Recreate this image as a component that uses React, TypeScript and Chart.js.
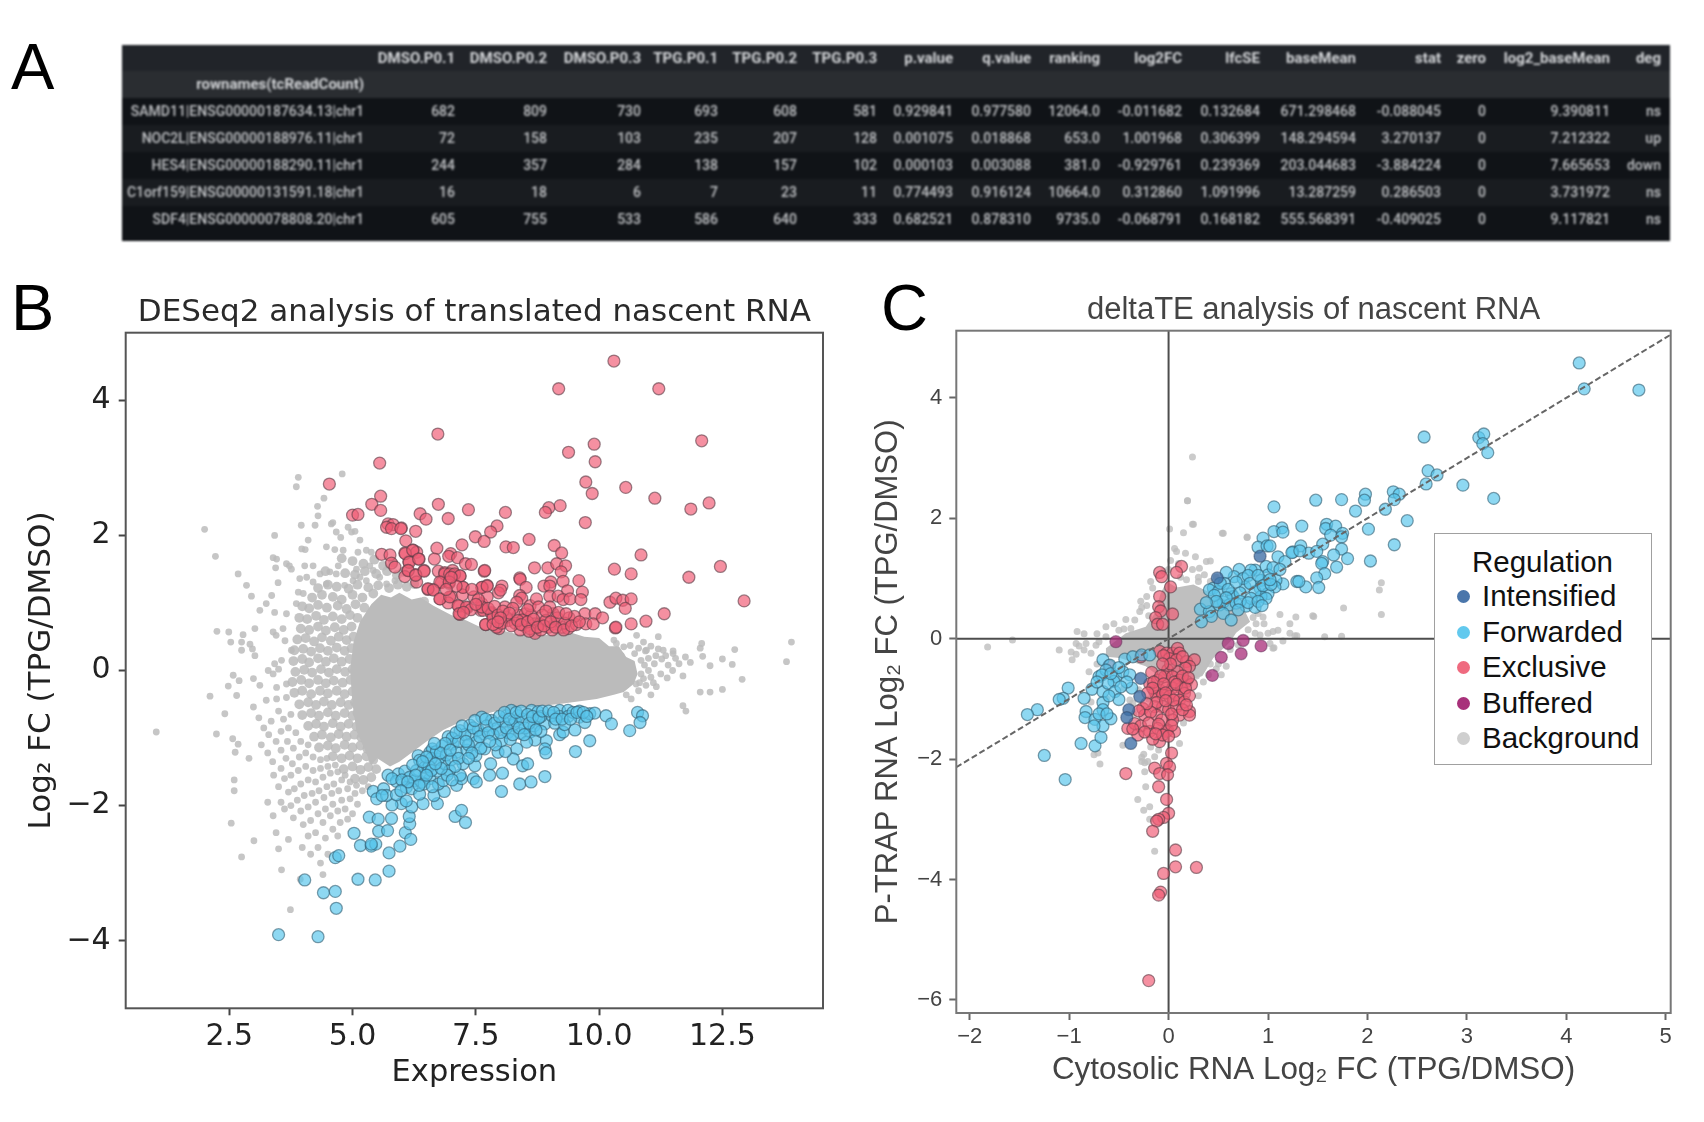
import React, { useEffect, useRef } from "react";
import { Chart, registerables } from "chart.js";

Chart.register(...registerables);

type Pair = number[];

// ---------- Panel A table ----------
const tableColumns = ["DMSO.P0.1","DMSO.P0.2","DMSO.P0.3","TPG.P0.1","TPG.P0.2","TPG.P0.3","p.value","q.value","ranking","log2FC","lfcSE","baseMean","stat","zero","log2_baseMean","deg"];
const tableIndexName = "rownames(tcReadCount)";
const tableRowNames = ["SAMD11|ENSG00000187634.13|chr1","NOC2L|ENSG00000188976.11|chr1","HES4|ENSG00000188290.11|chr1","C1orf159|ENSG00000131591.18|chr1","SDF4|ENSG00000078808.20|chr1"];
const tableRows = [
  ["682","809","730","693","608","581","0.929841","0.977580","12064.0","-0.011682","0.132684","671.298468","-0.088045","0","9.390811","ns"],
  ["72","158","103","235","207","128","0.001075","0.018868","653.0","1.001968","0.306399","148.294594","3.270137","0","7.212322","up"],
  ["244","357","284","138","157","102","0.000103","0.003088","381.0","-0.929761","0.239369","203.044683","-3.884224","0","7.665653","down"],
  ["16","18","6","7","23","11","0.774493","0.916124","10664.0","0.312860","1.091996","13.287259","0.286503","0","3.731972","ns"],
  ["605","755","533","586","640","333","0.682521","0.878310","9735.0","-0.068791","0.168182","555.568391","-0.409025","0","9.117821","ns"],
];
const tableColumnRightEdges = [455,547,641,718,797,877,953,1031,1100,1182,1260,1356,1441,1486,1610,1661];

// ---------- Panel B ----------
const bXTicks = [2.5,5,7.5,10,12.5];
const bYTicks = [-4,-2,0,2,4];
const bExclusive: Pair[] = [
[10.30,4.58],[9.18,4.17],[11.21,4.17],[6.73,3.50],[9.90,3.35],[9.38,3.23],[9.92,3.09],[12.08,3.40],[9.73,2.79],[9.86,2.62],[10.54,2.71],[11.13,2.55],[12.23,2.48],[11.86,2.39],[9.21,2.44],[8.98,2.41],[8.91,2.34],[6.74,2.46],[7.35,2.38],[8.10,2.34],[6.37,2.32],[6.49,2.24],[6.94,2.25],[9.72,2.19],[7.93,2.14],[7.80,2.05],[7.49,1.98],[7.67,1.91],[6.28,2.06],[5.99,2.11],[8.58,1.94],[8.11,1.83],[8.26,1.82],[9.09,1.85],[9.24,1.74],[10.85,1.71],[7.22,1.86],[6.08,1.92],[6.71,1.81],[6.23,1.78],[6.30,1.75],[6.99,1.73],[6.95,1.69],[7.13,1.67],[6.66,1.65],[6.35,1.65],[6.06,1.74],[6.14,1.61],[7.29,1.58],[7.41,1.57],[12.46,1.54],[8.69,1.52],[8.96,1.52],[9.14,1.58],[9.32,1.55],[9.23,1.46],[10.31,1.50],[10.65,1.43],[11.82,1.38],[7.67,1.47],[6.45,1.48],[6.12,1.48],[6.74,1.47],[6.28,1.42],[6.30,1.31],[6.06,1.39],[6.87,1.45],[7.03,1.48],[7.06,1.41],[7.18,1.40],[6.80,1.30],[6.96,1.29],[8.39,1.37],[8.40,1.35],[9.27,1.32],[9.59,1.33],[9.02,1.31],[8.88,1.25],[9.00,1.25],[7.73,1.26],[7.63,1.23],[8.03,1.25],[7.96,1.15],[8.52,1.23],[7.24,1.23],[6.53,1.20],[6.64,1.20],[9.36,1.18],[9.66,1.16],[6.78,1.06],[7.01,1.09],[7.23,1.12],[6.94,1.00],[7.46,1.09],[8.39,1.11],[8.43,1.07],[8.33,1.01],[9.00,1.10],[9.17,1.10],[9.27,1.05],[9.41,1.06],[9.63,1.05],[10.22,1.01],[10.34,1.07],[10.48,1.04],[10.65,1.06],[10.53,0.92],[12.94,1.03],[11.32,0.84],[10.95,0.73],[10.65,0.69],[10.33,0.63],[10.34,0.64],[7.18,0.83],[7.16,0.95],[7.33,0.93],[7.62,0.99],[7.60,0.89],[7.70,0.68],[7.82,0.86],[7.73,1.09],[8.09,0.94],[8.16,0.74],[7.97,0.62],[8.12,0.79],[8.36,0.82],[8.50,0.84],[8.50,0.65],[8.63,0.82],[8.60,0.96],[8.73,1.06],[8.77,0.94],[8.70,0.69],[8.70,0.55],[8.80,0.69],[8.97,0.64],[9.07,0.84],[9.10,0.69],[9.00,0.94],[9.24,0.64],[9.37,0.62],[9.39,0.78],[9.54,0.68],[9.71,0.84],[9.73,0.69],[9.92,0.84],[9.88,0.69],[10.07,0.78],
[5.55,3.07],[4.53,2.76],[5.57,2.58],[5.39,2.46],[5.57,2.37],[5.00,2.30],[5.11,2.31],[5.72,2.17],[5.82,2.16],[5.69,2.12],[5.79,2.10],[5.98,2.10],[5.59,1.72],[5.76,1.71],[5.79,1.59],[5.86,1.53],[6.07,1.73],[6.22,1.78],[6.15,1.60],[6.34,1.65],[6.13,1.48],[6.28,1.41],[6.45,1.47],[6.87,1.43],[6.97,1.43],[7.07,1.43],[7.18,1.40],[6.77,1.31],[6.96,1.31],[7.24,1.23],[6.53,1.21],[6.64,1.19],[6.77,1.06],[6.97,1.09],[7.14,0.96],[7.31,0.94],[7.16,0.84],[7.62,1.23],[7.73,1.25],[7.65,0.89],[7.62,0.94],[7.82,0.84],[7.70,0.68],[7.92,0.64],[8.00,1.19],[7.68,1.48],
[7.85,0.78],[8.02,0.70],[8.25,0.92],[8.45,0.75],[8.55,0.90],[8.30,0.70],[8.85,0.82],[8.92,0.74],[9.15,0.78],[9.30,0.70],[9.50,0.80],[8.40,0.60],[8.60,0.62],[8.82,0.60],[9.05,0.60],[7.55,1.05],[7.40,0.90],
[7.75,0.92],[7.88,0.95],[7.95,0.82],[8.05,0.88],[8.18,0.85],[8.22,0.66],[8.35,0.74],[8.42,0.68],[8.55,0.72],[8.58,0.58],[8.67,0.76],[8.75,0.64],[8.88,0.66],[8.92,0.88],[9.02,0.72],[9.12,0.64],[9.18,0.86],[9.28,0.60],[9.33,0.84],[9.44,0.66],[9.60,0.72],[7.85,0.68],[8.0,0.78],[7.50,0.98],[7.95,0.72],[7.25,0.86],[7.42,1.20],[7.10,1.25],[7.00,1.38],[6.90,1.20]
];
const bForwarded: Pair[] = [
[3.50,-3.91],[4.30,-3.94],[4.67,-3.52],[4.41,-3.29],[4.65,-3.27],[4.03,-3.10],[5.11,-3.09],[5.46,-3.10],[5.74,-2.97],[4.65,-2.77],[4.72,-2.74],[5.74,-2.70],[5.96,-2.60],[5.16,-2.59],[5.38,-2.60],[5.47,-2.57],[5.38,-2.57],[5.03,-2.41],[5.53,-2.38],[5.71,-2.37],[6.07,-2.40],[6.18,-2.50],[5.34,-2.17],[5.52,-2.20],[5.79,-2.19],[6.16,-2.27],[6.15,-2.16],[7.08,-2.16],[7.21,-2.07],[7.29,-2.25],[6.20,-2.02],[5.99,-1.97],[5.80,-1.99],[6.43,-1.97],[6.72,-1.97],[5.42,-1.79],[5.49,-1.90],[5.63,-1.75],[5.69,-1.85],[5.89,-1.84],[6.09,-1.93],[5.72,-1.55],[5.93,-1.53],[6.06,-1.49],[5.89,-1.64],[6.16,-1.58],[6.26,-1.63],[6.40,-1.65],[6.09,-1.73],[6.20,-1.75],[6.36,-1.83],[6.65,-1.85],[6.86,-1.79],[6.57,-1.60],[6.74,-1.68],[6.84,-1.63],[6.33,-1.26],[6.36,-1.33],[6.57,-1.21],[6.62,-1.16],[6.47,-1.53],[6.72,-1.49],[6.47,-1.43],[6.87,-1.38],[6.74,-1.31],[6.97,-1.48],[7.11,-1.70],[7.21,-1.60],[7.45,-1.60],[7.51,-1.65],[7.18,-1.55],[6.94,-0.98],[7.04,-1.09],[7.18,-0.89],[7.11,-1.21],[7.32,-1.18],[7.24,-1.38],[7.48,-1.41],[7.38,-0.81],[7.62,-0.69],[7.41,-0.96],[7.65,-0.94],[7.51,-1.06],[7.50,-1.26],[7.68,-1.16],[7.82,-0.74],[7.92,-0.86],[8.02,-1.04],[7.95,-1.21],[7.80,-1.38],[7.78,-1.55],[8.04,-1.52],[8.02,-1.79],[8.12,-0.67],[8.22,-0.59],[8.26,-0.81],[8.36,-0.67],[8.41,-0.93],[8.33,-1.16],[8.26,-1.31],[8.45,-1.41],[8.55,-1.38],[8.39,-1.68],[8.62,-1.65],[8.90,-1.57],[8.63,-0.59],[8.76,-0.61],[8.73,-0.73],[8.60,-0.91],[8.70,-1.03],[8.53,-1.06],[8.90,-0.79],[9.04,-0.67],[8.93,-1.04],[8.90,-1.16],[8.92,-1.22],[9.20,-0.59],[9.20,-0.68],[9.37,-0.59],[9.37,-0.68],[9.47,-0.62],[9.60,-0.69],[9.71,-0.77],[9.81,-0.64],[9.91,-0.63],[9.20,-0.95],[9.27,-0.91],[9.51,-0.88],[9.81,-1.04],[9.52,-1.20],[10.14,-0.67],[10.25,-0.79],[10.62,-0.89],[10.78,-0.62],[10.88,-0.67],[10.83,-0.77],
[7.02,-1.00],[7.15,-1.05],[7.28,-0.95],[7.35,-1.10],[7.55,-0.88],[7.72,-0.82],[7.85,-0.95],[7.90,-1.10],[8.05,-0.75],[8.15,-0.92],[8.20,-1.02],[8.30,-0.75],[8.45,-0.72],[8.50,-0.85],[8.68,-0.82],[8.82,-0.68],[8.82,-0.90],[9.10,-0.78],[9.30,-0.80],[9.60,-0.60],[6.60,-1.30],[6.55,-1.42],[6.70,-1.20],[6.82,-1.12],[6.90,-1.25],[7.00,-1.32],[7.15,-1.30],[6.30,-1.48],[6.22,-1.40],[6.45,-1.68],[6.60,-1.48],[5.80,-1.60],[6.00,-1.62],[7.60,-1.15],[7.42,-1.22],[8.10,-1.20],
[7.10,-0.92],[7.22,-0.82],[7.30,-1.05],[7.45,-0.85],[7.48,-0.74],[7.58,-0.98],[7.70,-0.72],[7.75,-0.92],[7.78,-1.05],[7.88,-0.78],[7.98,-0.68],[8.00,-0.92],[8.08,-0.62],[8.12,-0.85],[8.18,-0.72],[8.25,-0.95],[8.32,-0.62],[8.38,-0.85],[8.42,-0.60],[8.48,-0.95],[8.55,-0.65],[8.58,-0.78],[8.65,-0.68],[8.72,-0.88],[8.78,-0.70],[8.85,-0.60],[8.98,-0.60],[9.08,-0.62],[9.12,-0.72],[9.25,-0.72],[9.42,-0.72],[9.55,-0.62],[9.68,-0.62],[9.75,-0.68],[6.88,-1.08],[6.78,-1.22],[6.66,-1.08],[6.50,-1.28],[6.42,-1.35],[6.98,-1.18],[7.08,-1.42],[6.92,-1.55],[6.80,-1.45],[6.68,-1.38],[6.28,-1.55],[6.12,-1.65],[5.98,-1.78],[5.60,-1.85],[6.50,-1.55],[6.35,-1.70],[6.62,-1.72],[7.02,-1.62],[7.35,-1.30]
];
const bBackgroundCore: Pair[] = [[4.95,0],[5.02,0.42],[5.15,0.72],[5.38,0.98],[5.58,1.12],[5.78,1.08],[5.95,1.15],[6.2,1.05],[6.38,1.08],[6.64,0.96],[7.0,0.82],[7.31,0.74],[7.65,0.62],[7.99,0.6],[8.32,0.54],[8.66,0.55],[9.0,0.52],[9.34,0.58],[9.7,0.5],[10.0,0.48],[10.2,0.36],[10.4,0.36],[10.55,0.2],[10.72,0.14],[10.78,-0.05],[10.7,-0.2],[10.5,-0.32],[10.3,-0.36],[9.95,-0.42],[9.27,-0.49],[8.5,-0.55],[7.92,-0.6],[7.3,-0.72],[6.84,-0.88],[6.5,-1.05],[6.23,-1.2],[5.95,-1.35],[5.76,-1.42],[5.5,-1.3],[5.38,-1.4],[5.22,-1.12],[5.08,-0.9],[5.0,-0.5],[4.95,0]];
const bBackgroundMid: Pair[] = [
[5.00,1.62],[5.22,1.58],[5.44,1.64],[5.62,1.55],[4.78,1.66],[5.82,1.60],
[4.45,1.47],[4.85,1.44],[5.05,1.42],[5.25,1.47],[5.48,1.43],[5.70,1.47],[5.90,1.41],[6.02,1.46],
[4.30,1.22],[4.50,1.27],[4.68,1.24],[4.92,1.21],[5.10,1.27],[5.32,1.23],[5.52,1.26],[5.74,1.22],[5.92,1.27],[6.10,1.24],[6.25,1.28],
[4.18,1.08],[4.38,1.12],[4.60,1.09],[4.78,1.05],[5.00,1.12],[5.20,1.08],[5.42,1.14],[6.45,1.02],
[3.98,0.95],[4.12,0.92],[4.30,0.97],[4.48,0.93],[4.70,0.96],[4.88,0.91],[5.06,0.98],[5.24,0.93],
[3.92,0.78],[4.08,0.76],[4.26,0.81],[4.42,0.75],[4.60,0.80],[4.78,0.76],[4.95,0.82],[5.10,0.78],
[3.95,0.62],[4.12,0.60],[4.30,0.65],[4.46,0.59],[4.64,0.64],[4.82,0.60],[4.98,0.65],
[3.88,0.46],[4.05,0.48],[4.22,0.43],[4.38,0.49],[4.56,0.44],[4.72,0.50],[4.88,0.45],[5.02,0.50],
[3.82,0.30],[4.00,0.32],[4.16,0.28],[4.34,0.33],[4.50,0.29],[4.68,0.34],[4.84,0.29],[4.98,0.33],
[3.80,0.14],[3.98,0.17],[4.12,0.12],[4.30,0.18],[4.46,0.13],[4.62,0.18],[4.78,0.13],[4.94,0.17],
[3.84,-0.02],[4.02,0.01],[4.18,-0.03],[4.36,0.02],[4.52,-0.03],[4.68,0.02],[4.85,-0.02],[5.00,0.02],
[3.78,-0.17],[3.96,-0.14],[4.12,-0.19],[4.30,-0.14],[4.46,-0.19],[4.62,-0.15],[4.80,-0.18],[4.96,-0.14],
[3.82,-0.33],[3.98,-0.30],[4.16,-0.35],[4.34,-0.30],[4.50,-0.34],[4.68,-0.30],[4.84,-0.35],[5.00,-0.31],
[3.92,-0.50],[4.10,-0.47],[4.26,-0.51],[4.42,-0.46],[4.58,-0.51],[4.76,-0.47],[4.92,-0.51],[5.05,-0.47],
[3.98,-0.66],[4.16,-0.63],[4.32,-0.67],[4.50,-0.62],[4.66,-0.67],[4.84,-0.63],[5.00,-0.67],[5.10,-0.63],
[4.10,-0.82],[4.26,-0.79],[4.42,-0.83],[4.60,-0.78],[4.76,-0.83],[4.92,-0.79],[5.08,-0.83],
[4.22,-0.98],[4.38,-0.95],[4.56,-0.99],[4.72,-0.94],[4.88,-0.98],[5.04,-0.95],[5.18,-0.99],
[4.32,-1.14],[4.50,-1.11],[4.66,-1.15],[4.84,-1.10],[5.00,-1.14],[5.16,-1.11],[5.30,-1.16],
[4.60,-1.27],[4.78,-1.30],[4.94,-1.26],[5.10,-1.30],[5.28,-1.27],[5.42,-1.32],
[4.82,-1.46],[5.00,-1.42],[5.16,-1.47],[5.32,-1.43],[5.48,-1.46],
[5.05,-1.60],[5.22,-1.62],[5.38,-1.58]
];
const bBackgroundDots: Pair[] = [
[3.90,2.86],[3.86,2.72],[4.79,2.91],[4.42,2.55],[4.29,2.43],[4.30,2.29],[2.00,2.09],[2.22,1.69],[2.68,1.43],[2.85,1.26],[2.95,1.10],[3.42,2.00],[3.96,2.15],[4.24,2.15],[4.57,2.17],[4.60,2.19],[4.67,2.05],[4.76,1.97],[4.91,2.12],[4.98,2.05],[5.05,2.06],[5.15,1.93],[4.10,1.93],[3.97,1.80],[4.04,1.79],[4.47,1.83],[4.64,1.79],[4.81,1.78],[5.11,1.75],[5.28,1.78],[5.38,1.75],[3.39,1.67],[3.46,1.65],[3.44,1.52],[3.66,1.58],[3.76,1.50],[3.72,1.55],[4.03,1.55],[4.20,1.55],[4.34,1.43],[4.54,1.46],[4.71,1.55],[4.67,1.43],[5.08,1.50],[5.35,1.55],[5.42,1.48],[3.49,1.30],[3.93,1.36],[4.07,1.38],[4.20,1.31],[4.47,1.28],[4.84,1.26],[5.01,1.33],[5.15,1.38],[5.28,1.33],[5.55,1.38],[5.69,1.28],[5.86,1.33],[3.36,1.11],[3.25,0.99],[3.90,1.16],[4.00,1.14],[3.12,0.89],[3.42,0.86],[3.66,0.84],[3.86,0.99],[2.25,0.58],[2.49,0.57],[2.78,0.53],[2.53,0.42],[2.75,0.42],[2.75,0.30],[3.02,0.62],[2.92,0.39],[2.97,0.32],[3.02,0.22],[3.39,0.57],[3.45,0.52],[3.59,0.62],[3.63,0.44],[3.76,0.30],[3.42,0.10],[3.56,0.15],[3.29,0.00],[3.39,-0.05],[3.50,0.02],[2.58,-0.07],[2.70,-0.15],[2.99,-0.12],[3.12,-0.22],[3.46,-0.25],[3.66,-0.20],[2.48,-0.23],[2.65,-0.37],[2.11,-0.38],[2.99,-0.54],[3.25,-0.44],[3.46,-0.42],[3.66,-0.40],[2.41,-0.64],
[1.02,-0.91],[2.24,-0.94],[2.57,-1.01],[2.68,-1.09],[2.62,-1.21],[2.90,-1.30],[2.60,-1.62],[2.60,-1.78],[2.54,-2.26],[2.75,-2.76],[3.56,-2.95],[3.74,-3.54],[3.94,-3.09],[3.00,-2.52],[3.28,-1.95],[3.39,-2.15],[3.45,-2.40],[3.50,-2.64],
[3.10,-0.70],[3.20,-0.85],[3.35,-0.75],[3.50,-0.60],[3.60,-0.72],[3.75,-0.65],[3.30,-0.95],[3.45,-1.05],[3.55,-0.90],[3.70,-0.85],[3.85,-0.92],[3.15,-1.10],[3.28,-1.22],[3.38,-1.35],[3.55,-1.18],[3.68,-1.05],[3.80,-1.15],[3.95,-1.05],[4.10,-1.10],[3.40,-1.55],[3.55,-1.45],[3.65,-1.30],[3.78,-1.38],[3.92,-1.28],[4.05,-1.22],[4.20,-1.28],[4.35,-1.32],[4.48,-1.30],[3.50,-1.72],[3.62,-1.60],[3.75,-1.55],[3.90,-1.48],[4.05,-1.42],[4.20,-1.48],[4.35,-1.45],[4.50,-1.42],[4.65,-1.40],[3.55,-1.95],[3.70,-1.80],[3.82,-1.75],[3.95,-1.68],[4.10,-1.62],[4.25,-1.65],[4.40,-1.58],[4.55,-1.52],[4.70,-1.50],[4.85,-1.55],[3.62,-2.05],[3.75,-2.00],[3.88,-1.92],[4.02,-1.85],[4.18,-1.82],[4.32,-1.78],[4.48,-1.72],[4.62,-1.68],[4.78,-1.62],[4.95,-1.65],[5.08,-1.70],[3.80,-2.18],[3.95,-2.08],[4.10,-2.02],[4.25,-1.95],[4.42,-1.88],[4.58,-1.82],[4.72,-1.78],[4.90,-1.75],[5.05,-1.82],[5.20,-1.78],[5.32,-1.72],[4.00,-2.28],[4.15,-2.22],[4.30,-2.12],[4.45,-2.05],[4.60,-1.98],[4.78,-1.92],[4.95,-1.90],[5.10,-1.98],[4.10,-2.45],[4.25,-2.40],[4.40,-2.25],[4.55,-2.15],[4.70,-2.08],[4.85,-2.05],[5.00,-2.12],[4.30,-2.62],[4.45,-2.48],[4.60,-2.35],[4.75,-2.25],[4.90,-2.20],[4.50,-2.72],[4.35,-2.85],[4.70,-2.45],[4.40,-3.02],[3.98,-2.62],[3.70,-2.50],[4.15,-2.72],
[11.05,0.36],[10.90,0.42],[10.76,0.52],[11.20,0.50],[10.35,0.40],[10.63,0.37],[10.96,0.30],[11.50,0.25],[12.08,0.40],[12.75,0.31],[13.90,0.42],[13.80,0.13],[12.90,-0.13],[12.50,0.17],[12.70,0.09],[12.05,0.33],[12.10,0.21],[12.25,0.07],[12.05,-0.32],[12.25,-0.32],[12.50,-0.28],[11.70,-0.52],[11.76,-0.60],[11.50,0.29],[11.55,0.18],[11.27,0.17],[11.49,0.00],[11.38,-0.11],[11.16,-0.24],[11.05,-0.36],[11.20,0.32],[10.94,0.29],[10.85,0.15],[11.00,0.00],[10.90,-0.12],[10.80,-0.30],[10.95,-0.22],[11.12,0.10],[11.25,-0.05],[11.62,0.10],[11.40,0.08],[11.75,0.20],[11.85,0.12],[11.70,-0.08],[10.55,-0.36],[10.65,-0.42],[10.50,0.35],[10.72,0.25],[10.80,0.33],[10.75,-0.20],[10.85,-0.05],[10.30,0.45],[10.45,0.22],[11.30,0.30],[10.92,0.08],[11.05,-0.10],[11.15,0.22],[11.35,0.22],[11.00,0.18],[10.82,-0.18],[11.10,-0.18]
];

// ---------- Panel C ----------
const cXTicks = [-2,-1,0,1,2,3,4,5];
const cYTicks = [-6,-4,-2,0,2,4];
const cDiagonal: Pair[] = [[-2.135,-2.135],[5.05,5.05]];
const cZeroH: Pair[] = [[-2.135,0],[5.05,0]];
const cZeroV: Pair[] = [[0,-6.22],[0,5.12]];
const cIntensified: Pair[] = [[0.49,1.01],[0.92,1.37],[-0.28,-0.66],[-0.29,-0.96],[-0.40,-1.18],[-0.42,-1.31],[-0.38,-1.74]];
const cBuffered: Pair[] = [[-0.53,-0.05],[0.60,-0.08],[0.75,-0.03],[0.93,-0.12],[0.73,-0.25],[0.53,-0.31],[0.44,-0.61]];
const cForwarded: Pair[] = [
[4.13,4.58],[4.18,4.15],[4.73,4.13],[2.57,3.35],[3.12,3.34],[3.17,3.40],[3.16,3.24],[3.21,3.09],[2.61,2.79],[2.70,2.72],[2.59,2.57],[2.96,2.55],[3.27,2.33],[2.26,2.44],[2.32,2.40],[2.27,2.31],[2.18,2.15],[2.40,1.96],[1.98,2.40],[1.97,2.30],[1.88,2.12],[1.74,2.31],[1.48,2.30],[1.06,2.19],[2.01,1.82],[2.27,1.56],[2.03,1.29],[1.59,1.90],[1.58,1.83],[1.68,1.87],[1.63,1.72],[1.75,1.75],[1.74,1.69],[1.34,1.87],[1.14,1.84],[1.06,1.78],[1.15,1.77],[0.95,1.67],[0.90,1.52],[0.99,1.54],[1.74,1.49],[1.66,1.39],[1.55,1.57],[1.33,1.54],[1.25,1.44],[1.41,1.42],[1.49,1.45],[1.80,1.33],[1.69,1.19],[1.55,1.28],[1.54,1.25],[1.57,1.08],[1.49,1.01],[1.51,0.85],[1.38,0.86],[1.29,0.95],[1.31,0.95],[1.02,1.54],[1.10,1.36],[1.17,1.28],[1.24,1.43],[1.32,1.46],[1.15,0.91],[1.08,0.97],[1.07,0.86],[0.98,1.20],[1.00,1.06],[0.93,0.97],[0.87,1.14],[0.83,1.14],[0.92,0.84],[1.00,0.75],[0.93,0.70],[0.87,0.78],[0.77,0.86],[0.71,1.15],[0.66,1.03],[0.75,1.00],[0.58,1.10],[0.56,0.92],[0.45,0.84],[0.41,0.81],[0.50,0.78],[0.63,0.75],[0.65,0.70],[0.55,0.61],[0.61,0.56],[0.51,0.56],[0.68,0.59],[0.78,0.54],[0.87,0.52],[0.83,0.67],[0.98,0.67],[0.32,0.49],[0.41,0.45],[0.55,0.42],[0.63,0.31],[0.43,0.37],[0.33,0.28],
[0.46,0.72],[0.52,0.92],[0.60,0.82],[0.68,0.94],[0.72,0.76],[0.80,1.05],[0.82,0.92],[0.90,1.05],[0.95,0.88],[1.03,0.90],[0.72,0.62],[0.80,0.60],[0.90,0.62],[0.94,0.55],[1.05,1.18],[1.12,1.15],[1.02,0.98],[0.58,0.68],[0.48,0.62],[0.38,0.60],[0.70,0.48],
[-1.01,-0.82],[-1.06,-0.99],[-1.10,-1.01],[-1.32,-1.18],[-1.42,-1.26],[-1.25,-1.94],[-1.04,-2.34],[-0.88,-1.74],[-0.74,-1.78],[-0.68,-1.64],[-0.85,-0.99],[-0.77,-0.84],[-0.66,-0.88],[-0.70,-0.63],[-0.66,-0.35],[-0.59,-0.44],[-0.63,-0.52],[-0.67,-0.60],[-0.53,-0.63],[-0.55,-0.71],[-0.61,-0.74],[-0.46,-0.55],[-0.39,-0.60],[-0.44,-0.34],[-0.36,-0.30],[-0.27,-0.27],[-0.19,-0.27],[-0.54,-0.88],[-0.50,-1.01],[-0.37,-0.82],[-0.66,-1.06],[-0.66,-1.18],[-0.83,-1.21],[-0.84,-1.31],[-0.74,-1.34],[-0.66,-1.45],[-0.58,-1.33],[-0.75,-1.45],
[-0.58,-0.58],[-0.50,-0.48],[-0.42,-0.72],[-0.48,-0.80],[-0.60,-0.95],[-0.70,-1.25],[-0.62,-1.25],[-0.72,-0.72]
];
const cExclusive: Pair[] = [
[0.13,1.20],[0.08,1.10],[-0.09,1.10],[-0.07,1.03],[0.02,0.86],[-0.09,0.70],[-0.10,0.53],[-0.08,0.46],[-0.13,0.35],[-0.11,0.24],[-0.06,0.24],[0.04,0.41],
[-0.09,-0.21],[-0.02,-0.24],[0.04,-0.24],[0.09,-0.16],[0.11,-0.24],[0.01,-0.33],[0.08,-0.35],[0.18,-0.38],[0.26,-0.35],[0.21,-0.46],[0.17,-0.49],[-0.01,-0.52],[0.09,-0.55],[-0.17,-0.56],[-0.19,-0.75],[-0.11,-0.69],[-0.04,-0.63],[0.04,-0.63],[0.11,-0.69],[0.18,-0.71],[0.23,-0.76],[-0.14,-0.88],[-0.09,-0.85],[-0.02,-0.82],[0.04,-0.82],[0.13,-0.82],[-0.12,-0.96],[-0.06,-0.93],[0.01,-0.96],[0.08,-0.93],[0.16,-0.91],[0.11,-1.02],[-0.26,-1.16],[-0.14,-1.13],[-0.06,-1.13],[-0.24,-1.27],[-0.12,-1.27],[0.00,-1.18],[0.08,-1.13],[0.21,-1.21],[0.11,-1.27],[0.04,-1.35],[-0.07,-1.35],[0.21,-1.27],[-0.41,-1.49],[-0.34,-1.41],[-0.28,-1.45],[-0.31,-1.60],[-0.19,-1.54],[-0.11,-1.49],[-0.01,-1.52],[-0.09,-1.71],[-0.16,-1.67],[-0.02,-1.54],[0.06,-1.54],[0.03,-1.90],[-0.02,-2.07],[0.01,-2.13],[-0.14,-2.15],[-0.09,-2.24],[-0.01,-2.26],[-0.43,-2.24],[-0.60,-0.45],[-0.28,-0.30],
[-0.10,-2.46],[-0.02,-2.67],[0.00,-2.90],[-0.05,-2.97],[-0.10,-3.00],[-0.12,-3.03],[-0.16,-3.20],[0.07,-3.51],[0.07,-3.79],[0.28,-3.80],[-0.05,-3.90],[-0.08,-4.21],[-0.10,-4.26],[-0.20,-5.68],
[-0.05,-0.28],[0.02,-0.42],[0.14,-0.30],[-0.06,-0.42],[0.06,-0.72],[-0.08,-0.62],[0.14,-0.62],[-0.15,-0.72],[-0.16,-0.82],[-0.05,-0.75],[0.08,-0.76],[0.17,-0.82],[0.20,-0.65],[-0.21,-0.90],[-0.03,-0.90],[0.05,-1.02],[-0.12,-1.06],[-0.03,-1.03],[0.16,-1.05],[0.21,-0.95],[0.03,-1.25],[-0.18,-1.22],[-0.22,-1.08],[-0.30,-1.20],[-0.20,-1.40],[-0.10,-1.42],[0.03,-1.44],[0.14,-1.18],[0.18,-1.10],[-0.36,-1.50],[-0.24,-1.55],[-0.06,-1.60],[0.00,-1.62],[-0.13,-1.58]
];
const cBackgroundCore: Pair[] = [[-0.63,-0.16],[-0.43,0.09],[-0.23,0.2],[-0.14,0.42],[-0.08,0.75],[-0.02,0.95],[0.08,0.85],[0.25,0.9],[0.40,0.78],[0.75,0.52],[0.82,0.28],[0.68,0.1],[0.62,-0.05],[0.45,-0.32],[0.34,-0.62],[0.04,-0.8],[-0.23,-0.46],[-0.49,-0.32],[-0.63,-0.30],[-0.63,-0.16]];
const cBackgroundDots: Pair[] = [
[0.19,2.29],[0.25,1.90],[0.15,1.76],[0.01,1.82],[0.55,1.75],[0.79,1.68],[0.06,1.50],[0.08,1.45],[0.17,1.42],[0.27,1.36],[0.38,1.28],[0.42,1.29],[0.24,1.15],[0.31,1.17],[0.36,1.06],[-0.16,0.84],[-0.27,0.52],[-0.29,0.45],[-0.43,0.32],[-0.34,0.31],[-0.45,0.16],[-0.38,0.17],[-0.63,0.20],[-0.63,0.03],[-0.92,0.12],[-0.85,0.08],[-1.57,-0.02],[-1.82,-0.14],[-1.10,-0.19],[-0.93,-0.08],[-0.90,-0.12],[-0.98,-0.22],[-0.93,-0.26],[-0.97,-0.35],[-0.83,-0.08],[-0.73,-0.11],[-0.85,-0.19],[-0.78,-0.24],
[1.12,0.40],[1.28,0.36],[1.45,0.38],[0.88,0.25],[0.96,0.25],[1.22,0.25],[1.10,0.14],[1.05,0.12],[1.00,0.09],[0.92,0.06],[0.87,0.09],[1.22,0.09],[1.29,0.05],[1.15,-0.04],[1.05,-0.16],[1.02,-0.08],[0.58,-0.46],[0.53,-0.60],[2.14,0.93],[2.12,0.81],[1.76,0.51],[2.14,0.40],[1.46,0.37],[0.24,3.02],[0.19,2.29],[0.24,1.90],[0.54,1.75],[0.79,1.69],[1.74,0.04],[1.57,0.03],[1.27,0.05],[1.06,-0.15],
[-0.46,-1.77],[-0.75,-1.93],[-0.69,-2.08],[-0.25,-1.92],[-0.27,-2.04],[-0.21,-2.04],[-0.14,-1.96],[-0.24,-2.21],[-0.23,-2.46],[0.11,-1.74],[-0.39,-1.02],[-0.36,-1.07],[-0.19,-0.74],[-0.31,-2.67],[-0.19,-2.79],[-0.19,-3.00],[-0.25,-2.85],[-0.14,-3.53],[-0.71,-1.90],[-0.27,-1.97],[-0.24,-2.06],[-0.45,-0.82],[-0.30,-0.85],[-0.62,-1.00],[-0.78,-1.05],[-0.20,-1.00],[-0.35,-1.25],[-0.18,-1.80],[-0.10,-1.85],[0.15,-1.40],[0.30,-0.95],[0.35,-0.72],[0.28,-0.62],[0.42,-0.42],[0.62,-0.18],[0.70,-0.10],[0.80,0.15],[0.70,0.35],[0.85,0.35],[-0.72,-0.42],[-0.80,-0.55],[-0.28,0.62],[-0.22,0.70],[-0.18,0.95],[0.02,1.30],[0.10,1.25],[0.12,1.02],[0.18,0.98],[0.30,0.95],
[-0.70,-0.05],[-0.72,0.08],[-0.55,0.25],[-0.50,0.14],[-0.20,0.38],[-0.22,0.55],[0.42,0.95],[0.48,1.02],[0.30,1.02],[-0.05,1.12],[0.00,1.15],[0.90,0.42],[0.95,0.36],[0.50,-0.42],[0.48,-0.50],[0.40,-0.60]
];

const RED_FILL = "rgba(240,92,116,0.68)";
const RED_EDGE = "rgba(92,60,70,0.6)";
const BLUE_FILL = "rgba(88,198,236,0.68)";
const BLUE_EDGE = "rgba(50,95,115,0.6)";
const toXY = (p: Pair[]) => p.map(([x, y]) => ({ x, y }));
const minusFmt = (v: number, d = 0) => (v < 0 ? "\u2212" : "") + Math.abs(v).toFixed(d);

const framePlugin = (color: string, width: number) => ({
  id: "frame",
  afterDatasetsDraw(chart: any) {
    const { ctx, chartArea: a } = chart;
    ctx.save();
    ctx.strokeStyle = color;
    ctx.lineWidth = width;
    ctx.strokeRect(a.left, a.top, a.right - a.left, a.bottom - a.top);
    ctx.restore();
  },
});

const marks = (data: Pair[], fill: string, edge: string, radius: number, order: number) => ({
  data: toXY(data), backgroundColor: fill, borderColor: edge, borderWidth: 1.3, pointRadius: radius, order,
});
const area = (data: Pair[], fill: string, order: number) => ({
  data: toXY(data), showLine: true, fill: "shape", backgroundColor: fill, borderColor: fill, borderWidth: 0, pointRadius: 0, tension: 0, order,
});
const rule = (data: Pair[], color: string, width: number, dash: number[], order: number) => ({
  data: toXY(data), showLine: true, fill: false, borderColor: color, borderWidth: width, borderDash: dash, pointRadius: 0, tension: 0, order,
});

function scales(o: any) {
  const fixedTicks = (vals: number[]) => (s: any) => { s.ticks = vals.map((value) => ({ value })); };
  return {
    x: {
      type: "linear", min: o.xMin, max: o.xMax,
      afterBuildTicks: fixedTicks(o.xTicks),
      afterFit: (s: any) => { s.height = o.xHeight; },
      border: { display: false },
      grid: { drawOnChartArea: false, drawTicks: true, tickLength: 7, tickColor: o.tickColor, tickWidth: 2 },
      ticks: { maxRotation: 0, autoSkip: false, padding: o.xPad, color: o.textColor, font: { family: o.family, size: o.tickSize }, callback: (v: number) => minusFmt(v, o.xDigits) },
      title: { display: true, text: o.xTitle, color: o.textColor, font: { family: o.family, size: o.xTitleSize }, padding: { top: 0, bottom: o.xTitleBottom } },
    },
    y: {
      type: "linear", min: o.yMin, max: o.yMax,
      afterBuildTicks: fixedTicks(o.yTicks),
      afterFit: (s: any) => { s.width = o.yWidth; },
      border: { display: false },
      grid: { drawOnChartArea: false, drawTicks: true, tickLength: 7, tickColor: o.tickColor, tickWidth: 2 },
      ticks: { autoSkip: false, padding: o.yPad, color: o.textColor, font: { family: o.family, size: o.tickSize }, callback: (v: number) => minusFmt(v) },
      title: { display: true, text: o.yTitle, color: o.textColor, font: { family: o.family, size: o.yTitleSize }, padding: { top: o.yTitleTop, bottom: 0 } },
    },
  };
}

const legendEntries = [
  { label: "Intensified", color: "#4a76ab", y: 596 },
  { label: "Forwarded", color: "#62c9ee", y: 632 },
  { label: "Exclusive", color: "#ef6a7f", y: 667 },
  { label: "Buffered", color: "#a8307a", y: 703 },
  { label: "Background", color: "#cfcfcf", y: 738 },
];

const abs = (s: React.CSSProperties): React.CSSProperties => ({ position: "absolute", ...s });
const rowTops = [98.3, 125.2, 152.1, 179, 205.9];
const panelFont = '"Liberation Sans", Arial, sans-serif';

function Table() {
  const cell = (text: string, right: number, top: number, h: number, bold: boolean) => (
    <div key={text + right + top} style={abs({ right: 1704 - right, top, height: h, lineHeight: h + "px", whiteSpace: "nowrap", fontFamily: "Roboto, sans-serif", fontSize: bold ? 15 : 14, fontWeight: bold ? 700 : 500, color: bold ? "#d4d6d9" : "#c3c5c8" })}>{text}</div>
  );
  return (
    <div style={{ filter: "blur(0.8px)" }}>
      <div style={abs({ left: 122, top: 45, width: 1548, height: 196, background: "#101317" })} />
      <div style={abs({ left: 122, top: 45, width: 1548, height: 26, background: "#212429" })} />
      <div style={abs({ left: 122, top: 71, width: 1548, height: 27.3, background: "#2a2d31" })} />
      {[1, 3].map((i) => <div key={i} style={abs({ left: 122, top: rowTops[i], width: 1548, height: 26.9, background: "#191c20" })} />)}
      {tableColumns.map((c, i) => cell(c, tableColumnRightEdges[i], 45, 26, true))}
      {cell(tableIndexName, 364, 71, 27, true)}
      {tableRowNames.map((n, r) => cell(n, 364, rowTops[r], 26.9, false))}
      {tableRows.map((row, r) => row.map((v, i) => cell(v, tableColumnRightEdges[i], rowTops[r], 26.9, false)))}
    </div>
  );
}

export default function App() {
  const bRef = useRef<HTMLCanvasElement>(null);
  const cRef = useRef<HTMLCanvasElement>(null);

  useEffect(() => {
    const b = new Chart(bRef.current as any, {
      type: "scatter",
      data: {
        datasets: [
          area(bBackgroundCore, "#bbbbbb", 4),
          marks(bBackgroundMid, "rgba(186,186,186,0.85)", "rgba(186,186,186,0)", 4.9, 5),
          marks(bBackgroundDots, "rgba(188,188,188,0.85)", "rgba(188,188,188,0)", 3.4, 6),
          marks(bExclusive, RED_FILL, RED_EDGE, 6, 2),
          marks(bForwarded, BLUE_FILL, BLUE_EDGE, 6, 1),
        ] as any,
      },
      options: {
        animation: false, responsive: false,
        layout: { padding: { right: 27 } },
        plugins: {
          legend: { display: false }, tooltip: { enabled: false },
          title: { display: true, text: "DESeq2 analysis of translated nascent RNA", color: "#2a2a2a", fullSize: false, font: { family: '"DejaVu Sans"', size: 31, weight: "normal" }, padding: { top: 24.6, bottom: 0.9 } },
        },
        scales: scales({
          xMin: 0.4, xMax: 14.54, yMin: -5, yMax: 5, xTicks: bXTicks, yTicks: bYTicks, xDigits: 1,
          xHeight: 113.7, yWidth: 125.7, xPad: 4, yPad: 8, tickSize: 30, tickColor: "#444", textColor: "#222",
          family: '"DejaVu Sans"', xTitle: "Expression", yTitle: "Log\u2082 FC (TPG/DMSO)", xTitleBottom: 31, yTitleTop: 23, xTitleSize: 30.5, yTitleSize: 31,
        }),
      } as any,
      plugins: [framePlugin("#555", 2)],
    });

    const c = new Chart(cRef.current as any, {
      type: "scatter",
      data: {
        datasets: [
          area(cBackgroundCore, "#bfbfbf", 9),
          marks(cBackgroundDots, "rgba(190,190,190,0.8)", "rgba(190,190,190,0)", 3.5, 8),
          rule(cZeroH, "#4d4d4d", 2, [], 7),
          rule(cZeroV, "#4d4d4d", 2, [], 6),
          marks(cExclusive, RED_FILL, RED_EDGE, 6, 4),
          marks(cForwarded, BLUE_FILL, BLUE_EDGE, 6, 3),
          marks(cIntensified, "rgba(62,110,165,0.78)", "rgba(50,70,100,0.5)", 6, 2),
          marks(cBuffered, "rgba(168,44,120,0.75)", "rgba(100,50,90,0.5)", 6, 2),
          rule(cDiagonal, "#666", 2, [6, 3], 1),
        ] as any,
      },
      options: {
        animation: false, responsive: false,
        layout: { padding: { right: 33.3 } },
        plugins: {
          legend: { display: false }, tooltip: { enabled: false },
          title: { display: true, text: "deltaTE analysis of nascent RNA", color: "#444", fullSize: false, font: { family: panelFont, size: 31, weight: "normal" }, padding: { top: 21.9, bottom: 1.6 } },
        },
        scales: scales({
          xMin: -2.135, xMax: 5.05, yMin: -6.218, yMax: 5.116, xTicks: cXTicks, yTicks: cYTicks, xDigits: 0,
          xHeight: 109, yWidth: 96.3, xPad: 4, yPad: 7, tickSize: 22, tickColor: "#666", textColor: "#444",
          family: panelFont, xTitle: "Cytosolic RNA Log\u2082 FC (TPG/DMSO)", yTitle: "P-TRAP RNA Log\u2082 FC (TPG/DMSO)", xTitleBottom: 33, yTitleTop: 10, xTitleSize: 31.4, yTitleSize: 31,
        }),
      } as any,
      plugins: [framePlugin("#777", 2)],
    });

    return () => { b.destroy(); c.destroy(); };
  }, []);

  const label = (t: string, left: number, centerY: number) => (
    <div style={abs({ left, top: centerY - 40, height: 80, lineHeight: "80px", fontFamily: panelFont, fontSize: 65, color: "#000" })}>{t}</div>
  );

  return (
    <div style={abs({ left: 0, top: 0, width: 1704, height: 1122, background: "#fff", overflow: "hidden" })}>
      <Table />
      {label("A", 11, 67)}
      {label("B", 11, 308)}
      {label("C", 881, 308)}
      <canvas ref={bRef} width={850} height={852} style={abs({ left: 0, top: 270, width: 850, height: 852, filter: "blur(0.6px)" })} />
      <canvas ref={cRef} width={844} height={852} style={abs({ left: 860, top: 270, width: 844, height: 852, filter: "blur(0.6px)" })} />
      <div style={abs({ left: 1434, top: 532.7, width: 218, height: 232, background: "#fff", border: "1px solid #a0a0a0", boxSizing: "border-box" })} />
      <div style={abs({ left: 1434, width: 217, textAlign: "center", top: 542, lineHeight: "40px", fontFamily: panelFont, fontSize: 29.5, color: "#111" })}>Regulation</div>
      {legendEntries.map((e) => (
        <React.Fragment key={e.label}>
          <div style={abs({ left: 1457, top: e.y - 6.5, width: 13, height: 13, borderRadius: "50%", background: e.color })} />
          <div style={abs({ left: 1482, top: e.y - 20, lineHeight: "40px", fontFamily: panelFont, fontSize: 29.5, color: "#111" })}>{e.label}</div>
        </React.Fragment>
      ))}
    </div>
  );
}
